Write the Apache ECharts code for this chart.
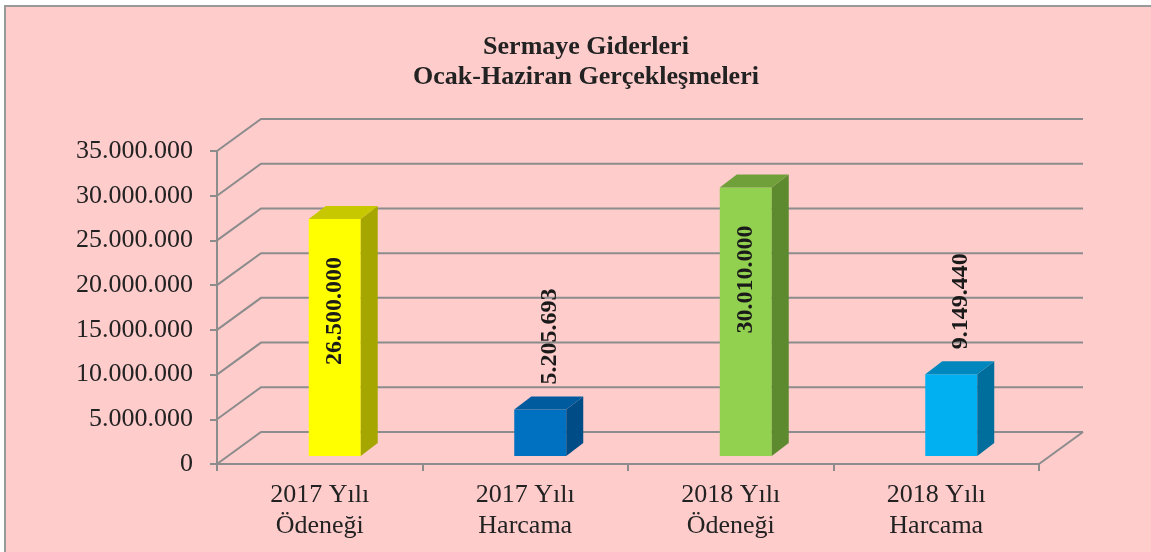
<!DOCTYPE html>
<html>
<head>
<meta charset="utf-8">
<script src="https://cdn.jsdelivr.net/npm/echarts@6/dist/echarts.min.js"></script>
<style>
  html, body { margin: 0; padding: 0; background: #ffffff; }
  #chart { width: 1151px; height: 552px; }
</style>
</head>
<body>
<div id="chart"></div>
<script>
// data
const categories = ['2017 Yılı\nÖdeneği', '2017 Yılı\nHarcama', '2018 Yılı\nÖdeneği', '2018 Yılı\nHarcama']
const values = [26500000, 5205693, 30010000, 9149440]
const yTicks = [0, 5000000, 10000000, 15000000, 20000000, 25000000, 30000000, 35000000]

// bar colours (front / side / top)
const frontColors = ['#FFFF00', '#0070C0', '#92D050', '#00B0F0']
const sideColors = ['#A6A600', '#004C86', '#5E8A2F', '#006E9C']
const topColors = ['#C8C800', '#005A9E', '#6FA03A', '#0088BE']

const FONT = '"Liberation Serif", "Times New Roman", serif'
const GRAY = '#8c8c8c'
const WALL_DX = 44, WALL_DY = -32

function fmt(v) {
  return String(Math.round(v)).replace(/\B(?=(\d{3})+(?!\d))/g, '.')
}

const chart = echarts.init(document.getElementById('chart'))

function renderGrid(params, api) {
  const v = api.value(1)
  const y = api.coord([0, v])[1]
  const cs = params.coordSys
  const x0 = cs.x, x1 = cs.x + cs.width
  const children = [{
    type: 'polyline',
    shape: { points: [[x0, y], [x0 + WALL_DX, y + WALL_DY], [x1 + WALL_DX, y + WALL_DY]] },
    style: { stroke: GRAY, lineWidth: 2, fill: null }
  }]
  if (v === 0) {
    children.push({
      type: 'line',
      shape: { x1: x1, y1: y, x2: x1 + WALL_DX, y2: y + WALL_DY },
      style: { stroke: GRAY, lineWidth: 2 }
    })
  }
  return { type: 'group', children: children }
}

function renderBar(params, api) {
  const i = api.value(0)
  const v = api.value(1)
  const top = api.coord([i, v])
  const base = api.coord([i, 0])
  const bw = api.size([1, 0])[0] * 0.253
  const cx = top[0] + 15
  const yTop = top[1] - 8
  const yBot = base[1] - 8
  const x0 = cx - bw / 2, x1 = cx + bw / 2
  const dx = 17, dy = -13
  const inside = v > 20000000
  const label = inside
    ? { type: 'text', x: cx, y: yTop + 38, rotation: Math.PI / 2,
        style: { text: fmt(v), font: 'bold 24px ' + FONT, fill: '#1a1a1a', align: 'right', verticalAlign: 'middle' } }
    : { type: 'text', x: cx + 10, y: yTop + dy - 12, rotation: Math.PI / 2,
        style: { text: fmt(v), font: 'bold 24px ' + FONT, fill: '#1a1a1a', align: 'left', verticalAlign: 'middle' } }
  return {
    type: 'group',
    children: [
      { type: 'rect', shape: { x: x0, y: yTop, width: bw, height: yBot - yTop }, style: { fill: frontColors[i] } },
      { type: 'polygon', shape: { points: [[x1, yTop], [x1 + dx, yTop + dy], [x1 + dx, yBot + dy], [x1, yBot]] }, style: { fill: sideColors[i] } },
      { type: 'polygon', shape: { points: [[x0, yTop], [x0 + dx, yTop + dy], [x1 + dx, yTop + dy], [x1, yTop]] }, style: { fill: topColors[i] } },
      label
    ]
  }
}

chart.setOption({
  backgroundColor: '#ffffff',
  animation: false,
  graphic: [{
    type: 'rect',
    z: -100,
    shape: { x: 5, y: 6, width: 1200, height: 600 },
    style: { fill: '#FFCCCC', stroke: '#999999', lineWidth: 2 }
  }],
  title: {
    text: 'Sermaye Giderleri\nOcak-Haziran Gerçekleşmeleri',
    left: 581,
    top: 27,
    textAlign: 'center',
    textStyle: {
      fontFamily: FONT,
      fontSize: 26,
      fontWeight: 'bold',
      lineHeight: 30,
      color: '#222222'
    }
  },
  grid: {
    left: 217,
    right: 112,
    top: 151,
    bottom: 88
  },
  xAxis: {
    type: 'category',
    data: categories,
    axisLine: { lineStyle: { color: GRAY, width: 2 } },
    axisTick: { show: true, length: 7, lineStyle: { color: GRAY, width: 2 } },
    axisLabel: {
      margin: 16,
      fontFamily: FONT,
      fontSize: 26,
      lineHeight: 31,
      color: '#222222'
    }
  },
  yAxis: {
    type: 'value',
    min: 0,
    max: 35000000,
    interval: 5000000,
    splitLine: { show: false },
    axisLine: { show: true, lineStyle: { color: GRAY, width: 2 } },
    axisTick: { show: true, length: 7, lineStyle: { color: GRAY, width: 2 } },
    axisLabel: {
      margin: 24,
      fontFamily: FONT,
      fontSize: 26,
      color: '#222222',
      formatter: fmt
    }
  },
  series: [
    {
      type: 'custom',
      name: 'grid',
      z: 1,
      silent: true,
      renderItem: renderGrid,
      encode: { x: 0, y: 1 },
      data: yTicks.map(v => [0, v])
    },
    {
      type: 'custom',
      name: 'bars',
      z: 3,
      renderItem: renderBar,
      encode: { x: 0, y: 1 },
      data: values.map((v, i) => [i, v])
    }
  ]
})
</script>
</body>
</html>
